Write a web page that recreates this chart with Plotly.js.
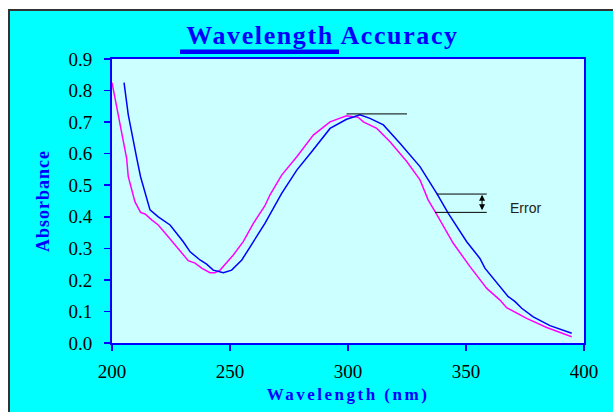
<!DOCTYPE html>
<html>
<head>
<meta charset="utf-8">
<script src="https://cdn.plot.ly/plotly-3.0.1.min.js"></script>
<style>html,body{margin:0;padding:0;background:#fff;}#chart{width:613px;height:412px;}</style>
</head>
<body>
<div id="chart"></div>
<script>
// Reference spectrum (magenta)
const refWavelength = [200, 206.2, 206.9, 209.7, 212.1, 214, 216.8, 219.6, 223.2, 227.4, 232.3, 235.2, 238, 241.5, 243.6, 245.8, 251.4, 255.6, 259.9, 264.8, 266.9, 271.9, 278.3, 285.3, 292.4, 299.4, 304.4, 306.5, 312.2, 317.8, 324.9, 330.5, 334, 336.9, 344.6, 351.7, 358.8, 364.4, 367.2, 375.7, 384.2, 394.8];
const refAbsorbance = [0.825, 0.585, 0.527, 0.448, 0.414, 0.409, 0.390, 0.374, 0.342, 0.305, 0.261, 0.253, 0.237, 0.223, 0.223, 0.231, 0.279, 0.321, 0.379, 0.435, 0.469, 0.532, 0.590, 0.659, 0.701, 0.720, 0.715, 0.701, 0.680, 0.638, 0.575, 0.517, 0.453, 0.416, 0.316, 0.242, 0.173, 0.136, 0.112, 0.078, 0.049, 0.020];
// Measured spectrum (blue)
const measWavelength = [205.1, 206.9, 210.5, 212.1, 216.1, 219.6, 224.6, 227.4, 230.2, 233.1, 237.3, 240.1, 242.9, 247.2, 250.7, 255, 259.9, 264.8, 271.9, 278.3, 284.6, 292.4, 299.4, 305.1, 309.3, 315, 322, 330.5, 337.6, 342.5, 350.3, 355.9, 358, 364.4, 367.9, 370.8, 373.6, 378.5, 385.6, 394.8];
const measAbsorbance = [0.825, 0.723, 0.585, 0.527, 0.422, 0.400, 0.374, 0.348, 0.321, 0.289, 0.263, 0.250, 0.231, 0.223, 0.231, 0.263, 0.321, 0.379, 0.474, 0.548, 0.606, 0.680, 0.709, 0.723, 0.712, 0.691, 0.633, 0.559, 0.474, 0.411, 0.321, 0.268, 0.237, 0.178, 0.147, 0.131, 0.110, 0.083, 0.055, 0.031];
const xTicks = [200, 250, 300, 350, 400];
const yTicks = [0.0, 0.1, 0.2, 0.3, 0.4, 0.5, 0.6, 0.7, 0.8, 0.9];

const L = 112, R = 29, T = 59, B = 69, W = 613, H = 412;
const pw = W - L - R, ph = H - T - B;
const fx = p => (p - L) / pw;
const fy = p => (H - B - p) / ph;

const serif = "'Liberation Serif', 'Times New Roman', serif";
const traces = [
  {x: refWavelength, y: refAbsorbance, type: 'scatter', mode: 'lines', line: {color: '#FF00FF', width: 1.5}, hoverinfo: 'skip'},
  {x: measWavelength, y: measAbsorbance, type: 'scatter', mode: 'lines', line: {color: '#0000FF', width: 1.5}, hoverinfo: 'skip'}
];

const layout = {
  width: W, height: H,
  margin: {l: L, r: R, t: T, b: B, pad: 0},
  paper_bgcolor: '#00FFFF',
  plot_bgcolor: '#CCFFFF',
  showlegend: false,
  title: {
    text: '<span style="letter-spacing:1.6px">Wavelength Accuracy</span>',
    font: {family: serif, size: 26, color: '#0000FF', weight: 'bold'},
    xref: 'container', yref: 'container',
    x: 322.5 / W, xanchor: 'center',
    y: 1 - 35 / H, yanchor: 'middle'
  },
  xaxis: {
    range: [200, 400], tickvals: xTicks, ticktext: xTicks.map(String),
    ticks: 'outside', ticklen: 6, tickcolor: '#0000FF', tickwidth: 1.5,
    showline: true, linecolor: '#0000FF', linewidth: 2, mirror: true,
    showgrid: false, zeroline: false, ticklabelstandoff: 4,
    tickfont: {family: serif, size: 19, color: '#000'},
    title: {text: '<span style="letter-spacing:2.5px">Wavelength (nm)</span>', font: {family: serif, size: 17, color: '#0000FF', weight: 'bold'}, standoff: 7},
    fixedrange: true
  },
  yaxis: {
    range: [0, 0.9], tickvals: yTicks, ticktext: yTicks.map(v => v.toFixed(1)),
    ticks: 'outside', ticklen: 6, tickcolor: '#0000FF', tickwidth: 1.5,
    showline: true, linecolor: '#0000FF', linewidth: 2, mirror: true,
    showgrid: false, zeroline: false, ticklabelstandoff: 8,
    tickfont: {family: serif, size: 19, color: '#000'},
    title: {text: '<span style="letter-spacing:1px">Absorbance</span>', font: {family: serif, size: 18, color: '#0000FF', weight: 'bold'}, standoff: 14},
    fixedrange: true
  },
  shapes: [
    // white outer strips and dark border
    {type: 'rect', xref: 'paper', yref: 'paper', x0: fx(-5), x1: fx(8), y0: fy(-5), y1: fy(420), fillcolor: '#FFFFFF', line: {width: 0}},
    {type: 'rect', xref: 'paper', yref: 'paper', x0: fx(-5), x1: fx(620), y0: fy(-5), y1: fy(9), fillcolor: '#FFFFFF', line: {width: 0}},
    {type: 'line', xref: 'paper', yref: 'paper', x0: fx(9), x1: fx(9), y0: fy(9), y1: fy(420), line: {color: '#333', width: 2}},
    {type: 'line', xref: 'paper', yref: 'paper', x0: fx(8), x1: fx(620), y0: fy(10), y1: fy(10), line: {color: '#333', width: 2}},
    // title underline
    {type: 'rect', xref: 'paper', yref: 'paper', x0: fx(180), x1: fx(339), y0: fy(54), y1: fy(49.5), fillcolor: '#0000FF', line: {width: 0}},
    // peak marker and error lines
    {type: 'line', xref: 'x', yref: 'y', x0: 299.4, x1: 325, y0: 0.726, y1: 0.726, line: {color: '#000', width: 1}},
    {type: 'line', xref: 'x', yref: 'y', x0: 337.6, x1: 358.8, y0: 0.472, y1: 0.472, line: {color: '#000', width: 1}},
    {type: 'line', xref: 'x', yref: 'y', x0: 336.9, x1: 358.8, y0: 0.414, y1: 0.414, line: {color: '#000', width: 1}}
  ],
  annotations: [
    {x: 356.8, y: 0.470, ax: 356.8, ay: 0.416, xref: 'x', yref: 'y', axref: 'x', ayref: 'y', text: '', showarrow: true, arrowhead: 2, startarrowhead: 2, arrowside: 'end+start', arrowsize: 1.2, arrowwidth: 1, arrowcolor: '#000'},
    {x: 375.4, y: 0.428, xref: 'x', yref: 'y', text: 'Error', showarrow: false, font: {family: "'Liberation Sans', Arial, sans-serif", size: 14, color: '#222'}}
  ]
};

Plotly.newPlot('chart', traces, layout, {staticPlot: true, displayModeBar: false});
</script>
</body>
</html>
